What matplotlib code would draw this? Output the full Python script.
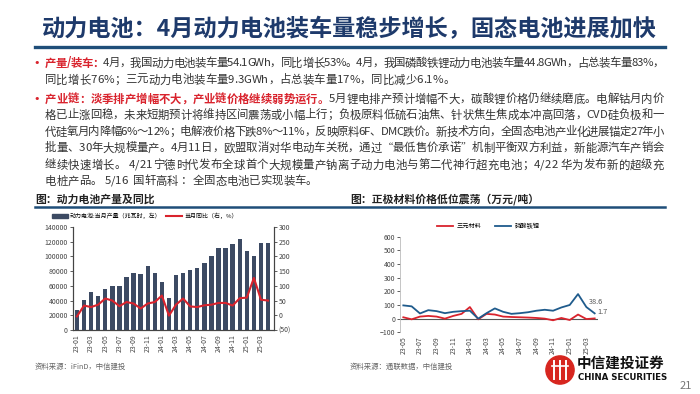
import matplotlib
matplotlib.use('Agg')
import matplotlib.pyplot as plt
from matplotlib.lines import Line2D
from matplotlib.patches import Patch, Circle
from matplotlib.font_manager import FontProperties

plt.rcParams['font.family'] = ['Noto Sans CJK SC', 'DejaVu Sans']

W, H = 700, 394
NAVY = '#1f4e79'
RED = '#d9232d'
BAR = '#3c4a63'
BLUE = '#1f5b8c'
TXT = '#333333'

# --- data: left chart (monthly production and YoY) ---
months_l = ['23-01', '23-02', '23-03', '23-04', '23-05', '23-06', '23-07', '23-08',
            '23-09', '23-10', '23-11', '23-12', '24-01', '24-02', '24-03', '24-04',
            '24-05', '24-06', '24-07', '24-08', '24-09', '24-10', '24-11', '24-12',
            '25-01', '25-02', '25-03', '25-04']
production = [27000, 41000, 51000, 46000, 56000, 60000, 60000, 72000, 77000, 76000,
              87000, 77000, 65000, 43000, 75000, 78000, 82000, 84000, 91000, 101000,
              111000, 112000, 117000, 124000, 108000, 100000, 118000, 118000]
yoy = [-4, 33, 28, 36, 57, 50, 31, 45, 40, 23, 40, 45, 67, -1, 36, 57, 30, 28, 34, 36,
       42, 42, 33, 58, 60, 127, 53, 50]

# --- data: right chart (cathode material prices) ---
months_r = ['23-05', '23-06', '23-07', '23-08', '23-09', '23-10', '23-11', '23-12',
            '24-01', '24-02', '24-03', '24-04', '24-05', '24-06', '24-07', '24-08',
            '24-09', '24-10', '24-11', '24-12', '25-01', '25-02', '25-03', '25-04']
ncm = [10, -5, 15, 20, 15, 0, 20, 35, 85, -5, 35, 30, 15, 12, 10, 8, 5, 0, -12, 5,
       -10, 30, -3, 1.7]
lfp = [97, 90, 38, 62, 55, 40, 50, 55, 58, 0, 40, 75, 50, 35, 40, 47, 58, 65, 58, 82,
       100, 180, 85, 38.6]

title = '动力电池：4月动力电池装车量稳步增长，固态电池进展加快'
# each line: (y, segments, justify); segment = (text, color, bold)
body = [
    (63, [('产量/装车：', RED, True),
          ('4月，我国动力电池装车量54.1GWh，同比增长53%。4月，我国磷酸铁锂动力电池装车量44.8GWh，占总装车量83%，', TXT, False)], True),
    (80, [('同比增长76%；三元动力电池装车量9.3GWh，占总装车量17%，同比减少6.1%。', TXT, False)], False),
    (99, [('产业链：淡季排产增幅不大，产业链价格继续弱势运行。', RED, True),
          ('5月锂电排产预计增幅不大，碳酸锂价格仍继续磨底。电解钴月内价', TXT, False)], True),
    (115, [('格已止涨回稳，未来短期预计将维持区间震荡或小幅上行；负极原料低硫石油焦、针状焦生焦成本冲高回落，CVD硅负极和一', TXT, False)], True),
    (132, [('代硅氧月内降幅6%～12%；电解液价格下跌8%～11%，反映原料6F、DMC跌价。新技术方向，全固态电池产业化进展锚定27年小', TXT, False)], True),
    (148, [('批量、30年大规模量产。4月11日，欧盟取消对华电动车关税，通过“最低售价承诺”机制平衡双方利益，新能源汽车产销会', TXT, False)], True),
    (165, [('继续快速增长。 4/21宁德时代发布全球首个大规模量产钠离子动力电池与第二代神行超充电池；4/22 华为发布新的超级充', TXT, False)], True),
    (181, [('电桩产品。 5/16  国轩高科 ：全固态电池已实现装车。', TXT, False)], False),
]
bullets = [63, 99]


def fx(x):
    return x / W


def fy(y):
    return 1 - y / H


fig = plt.figure(figsize=(7, 3.94), dpi=100)
renderer = fig.canvas.get_renderer()

# title and rule
fig.text(fx(42), fy(30), title, fontsize=16.7, fontweight='bold', color='#1e3a6b', va='center')
fig.add_artist(Line2D([fx(35), fx(665)], [fy(47), fy(47)], color=NAVY, lw=2.4))

# body text, placed character by character so lines can be justified
FS = 8.2
x0, x1 = 45, 664
cache = {}


def advance(ch, bold):
    key = (ch, bold)
    if key not in cache:
        fp = FontProperties(family=['Noto Sans CJK SC', 'DejaVu Sans'], size=FS,
                            weight='bold' if bold else 'normal')
        w1 = renderer.get_text_width_height_descent('|' + ch + '|', fp, ismath=False)[0]
        w0 = renderer.get_text_width_height_descent('||', fp, ismath=False)[0]
        cache[key] = w1 - w0
    return cache[key]


for y, segs, justify in body:
    chars = [(ch, c, b) for s, c, b in segs for ch in s]
    widths = [advance(ch, b) for ch, c, b in chars]
    gap = 0
    if justify:
        gap = (x1 - x0 - sum(widths)) / (len(chars) - 1)
    x = x0
    for (ch, c, b), w in zip(chars, widths):
        if ch != ' ':
            fig.text(fx(x), fy(y), ch, fontsize=FS, color=c,
                     fontweight='bold' if b else 'normal', va='center', ha='left')
        x += w + gap

for y in bullets:
    fig.text(fx(33), fy(y), '•', fontsize=8, color=RED, va='center', family='DejaVu Sans')

# chart captions
fig.text(fx(35), fy(199), '图：动力电池产量及同比', fontsize=7.8, fontweight='bold', color='#222222', va='center')
fig.text(fx(350), fy(199), '图：正极材料价格低位震荡（万元/吨）', fontsize=7.8, fontweight='bold', color='#222222', va='center')
fig.add_artist(Line2D([fx(35), fx(665)], [fy(207), fy(207)], color=NAVY, lw=1.8))

# left chart
ax1 = fig.add_axes([fx(72.7), fy(330), (273.7 - 72.7) / W, (330 - 227) / H])
xs = list(range(len(production)))
ax1.bar(xs, production, width=0.62, color=BAR, zorder=2)
ax1.set_ylim(0, 140000)
ax1.set_yticks(range(0, 140001, 20000))
ax1.set_xlim(-0.6, 27.8)
ax1.set_xticks(xs[::2])
ax1.set_xticklabels(months_l[::2], rotation=90)
ax2 = ax1.twinx()
ax2.plot(xs, yoy, color=RED, lw=1.5, zorder=3)
ax2.set_ylim(-50, 300)
ax2.set_yticks(range(-50, 301, 50))
ax2.set_yticklabels(['(50)'] + [str(v) for v in range(0, 301, 50)])
ax2.get_yticklabels()[0].set_color(RED)
for ax in (ax1, ax2):
    ax.spines['top'].set_visible(False)
    for sp in ('left', 'right', 'bottom'):
        ax.spines[sp].set_color('#444444')
        ax.spines[sp].set_linewidth(0.8)
    ax.tick_params(labelsize=5, length=2, width=0.6, pad=1.5, colors='#444444')
ax1.tick_params(axis='x', length=0, pad=3)

fig.legend([Patch(color=BAR), Line2D([], [], color=RED, lw=1.5)],
           ['动力电池:当月产量（兆瓦时，左）', '当月同比（右，%）'],
           loc='center left', bbox_to_anchor=(fx(52), fy(216)), ncol=2, fontsize=4.3,
           frameon=False, handlelength=2.6, handleheight=0.7, columnspacing=0.8,
           handletextpad=0.4, borderaxespad=0, borderpad=0)

# right chart
ax3 = fig.add_axes([fx(400), fy(332.3), (598 - 400) / W, (332.3 - 236.7) / H])
xr = list(range(len(months_r)))
ax3.plot(xr, ncm, color=RED, lw=1.3, label='三元材料')
ax3.plot(xr, lfp, color=BLUE, lw=1.3, label='磷酸铁锂')
ax3.axhline(0, color='#555555', lw=0.8, zorder=0)
ax3.set_ylim(-100, 600)
ax3.set_yticks(range(-100, 601, 100))
ax3.get_yticklabels()[0].set_color(RED)
ax3.set_xlim(-0.4, 23.4)
ax3.set_xticks(xr[::2])
ax3.set_xticklabels(months_r[::2], rotation=90)
for sp in ('top', 'right', 'bottom'):
    ax3.spines[sp].set_visible(False)
ax3.spines['left'].set_color('#bbbbbb')
ax3.spines['left'].set_linewidth(0.6)
ax3.tick_params(labelsize=5, length=2, width=0.6, pad=1.5, colors='#444444')
ax3.tick_params(axis='x', length=0, pad=3)
ax3.annotate(f'{lfp[-1]}', (xr[-1], lfp[-1]), xytext=(-4, 8.5), textcoords='offset points',
             fontsize=5.3, color='#555555', va='center')
ax3.annotate(f'{ncm[-1]}', (xr[-1], ncm[-1]), xytext=(2, 4.5), textcoords='offset points',
             fontsize=5.3, color='#555555', va='center')
fig.legend(*ax3.get_legend_handles_labels(), loc='center left',
           bbox_to_anchor=(fx(437), fy(226)), ncol=2, fontsize=4.5, frameon=False,
           handlelength=2.6, columnspacing=2.2, handletextpad=0.5, borderaxespad=0, borderpad=0)

# sources
fig.text(fx(35), fy(367), '资料来源：iFinD，中信建投', fontsize=5.3, color='#666666', va='center', style='italic')
fig.text(fx(350), fy(367), '资料来源：通联数据，中信建投', fontsize=5.3, color='#666666', va='center', style='italic')

# logo
axl = fig.add_axes([fx(545), fy(385), 30 / W, 30 / H])
axl.set_xlim(0, 1)
axl.set_ylim(0, 1)
axl.set_aspect('equal')
axl.axis('off')
axl.add_patch(Circle((0.5, 0.5), 0.47, color='#d7261f'))
for xv in (0.3, 0.5, 0.7):
    axl.plot([xv, xv], [0.2, 0.8], color='white', lw=1.4)
axl.plot([0.22, 0.78], [0.62, 0.62], color='white', lw=1.2)
fig.text(fx(577), fy(363), '中信建投证券', fontsize=10.5, fontweight='bold', color='#111111', va='center')
fig.text(fx(578), fy(378), 'CHINA SECURITIES', fontsize=6.2, fontweight='bold', color='#111111', va='center',
         family='DejaVu Sans')
fig.text(fx(680), fy(386), '21', fontsize=8, color='#777777', va='center')

fig.savefig('out.png', dpi=100)
